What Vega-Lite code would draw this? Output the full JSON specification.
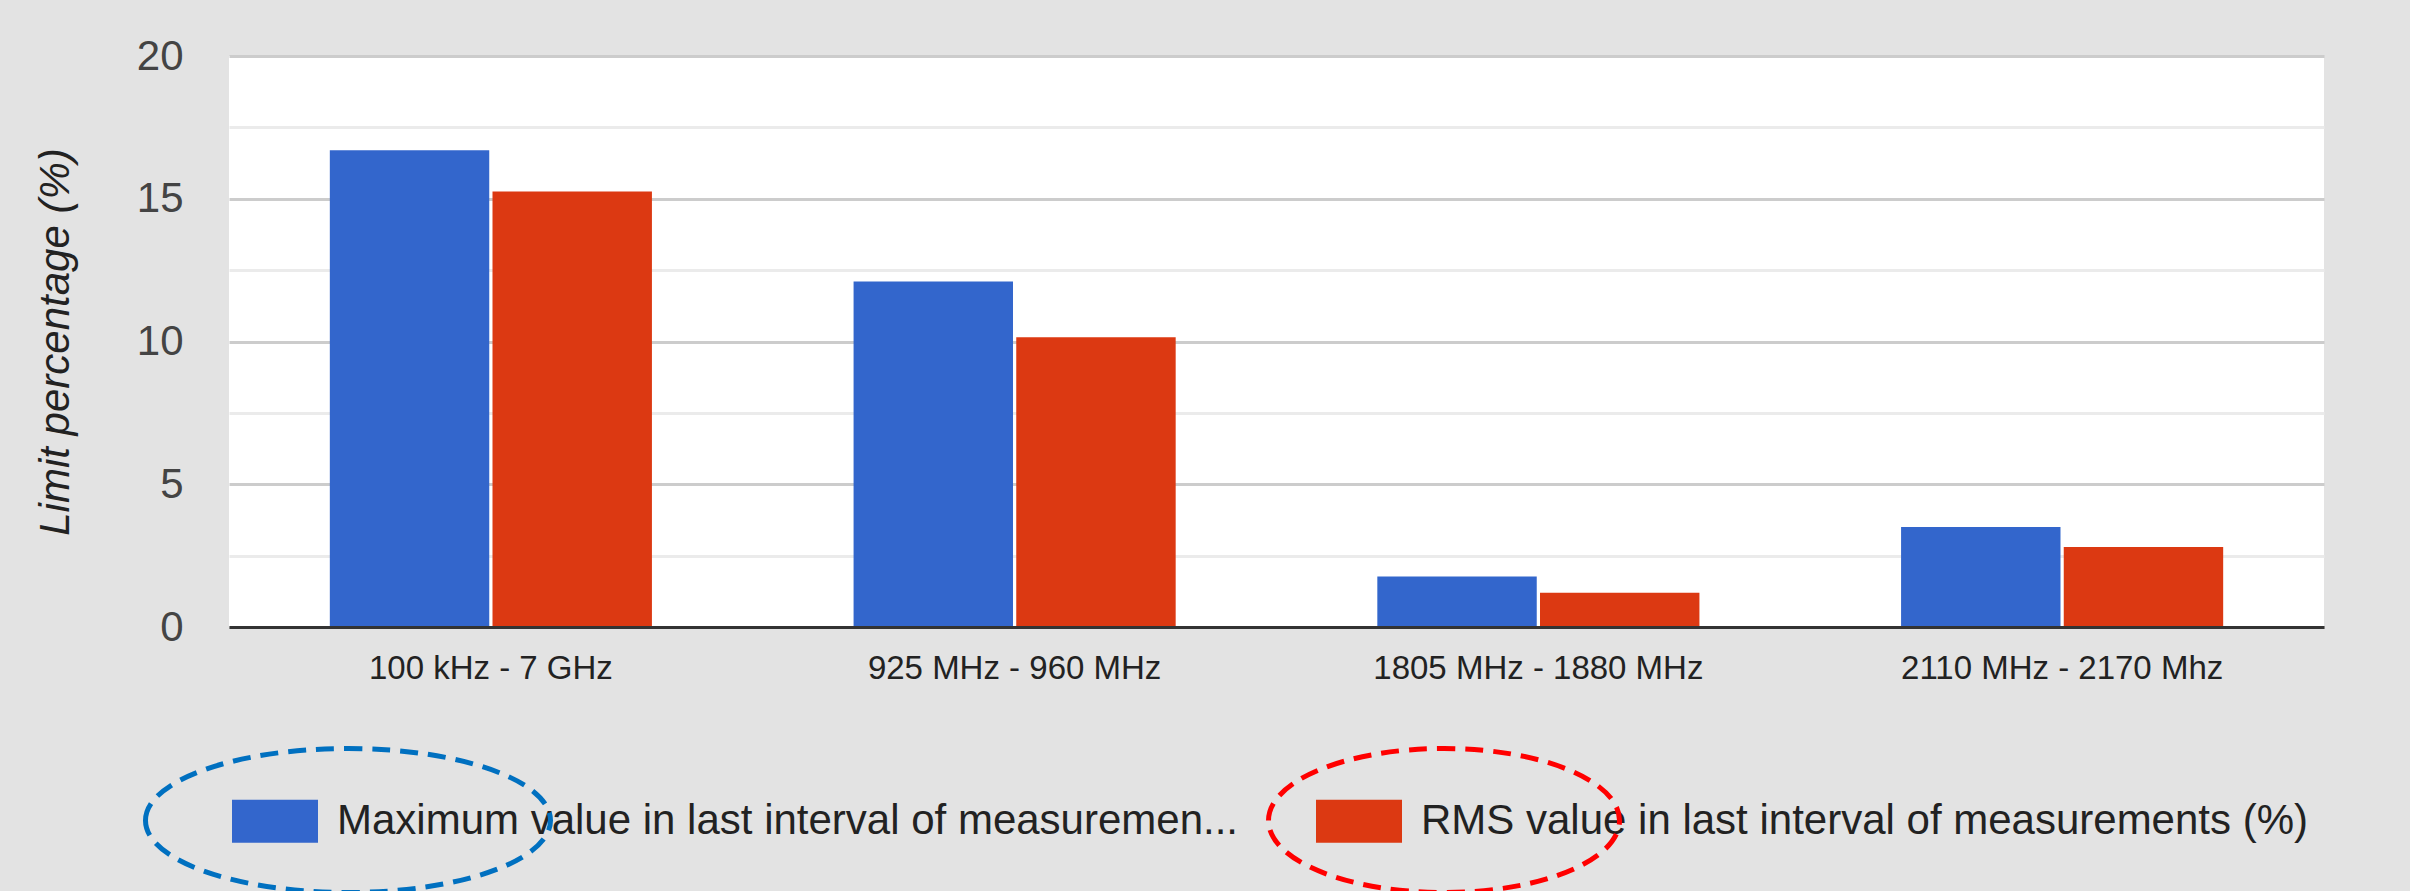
{
  "$schema": "https://vega.github.io/schema/vega-lite/v6.json",
  "width": 2095,
  "height": 571,
  "autosize": {"type": "none"},
  "padding": {"left": 229, "top": 56, "right": 86, "bottom": 264},
  "background": "#e3e3e3",
  "config": {
    "font": "Liberation Sans",
    "view": {"fill": "#ffffff", "stroke": null}
  },
  "data": {
    "values": [
      {"band": "100 kHz - 7 GHz", "series": "Maximum value in last interval of measurements (%)", "value": 16.7},
      {"band": "100 kHz - 7 GHz", "series": "RMS value in last interval of measurements (%)", "value": 15.25},
      {"band": "925 MHz - 960 MHz", "series": "Maximum value in last interval of measurements (%)", "value": 12.1},
      {"band": "925 MHz - 960 MHz", "series": "RMS value in last interval of measurements (%)", "value": 10.15},
      {"band": "1805 MHz - 1880 MHz", "series": "Maximum value in last interval of measurements (%)", "value": 1.77},
      {"band": "1805 MHz - 1880 MHz", "series": "RMS value in last interval of measurements (%)", "value": 1.2},
      {"band": "2110 MHz - 2170 Mhz", "series": "Maximum value in last interval of measurements (%)", "value": 3.5},
      {"band": "2110 MHz - 2170 Mhz", "series": "RMS value in last interval of measurements (%)", "value": 2.8}
    ]
  },
  "encoding": {
    "x": {
      "field": "band",
      "type": "nominal",
      "sort": null,
      "scale": {"paddingInner": 0.385, "paddingOuter": 0.1925},
      "axis": {
        "title": null,
        "labelAngle": 0,
        "labelFontSize": 33,
        "labelColor": "#222222",
        "labelPadding": 25,
        "labelLimit": 0,
        "ticks": false,
        "domainColor": "#333333",
        "domainWidth": 3,
        "zindex": 1
      }
    },
    "xOffset": {"field": "series", "type": "nominal", "scale": {"paddingInner": 0.02}},
    "y": {
      "field": "value",
      "type": "quantitative",
      "scale": {"domain": [0, 20], "nice": false},
      "axis": {
        "title": "Limit percentage (%)",
        "values": [0, 2.5, 5, 7.5, 10, 12.5, 15, 17.5, 20],
        "labelExpr": "datum.value % 5 === 0 ? datum.label : ''",
        "gridColor": {"condition": {"test": "datum.value % 5 === 0", "value": "#cccccc"}, "value": "#ebebeb"},
        "gridWidth": 3,
        "ticks": false,
        "domain": false,
        "labelFontSize": 42,
        "labelColor": "#444444",
        "labelPadding": 46,
        "titleFontSize": 42,
        "titleFontStyle": "italic",
        "titleFontWeight": "normal",
        "titleColor": "#222222",
        "titlePadding": 59
      }
    }
  },
  "layer": [
    {
      "mark": {"type": "bar"},
      "encoding": {
        "color": {
          "field": "series",
          "type": "nominal",
          "scale": {"range": ["#3366cc", "#dc3912"]},
          "legend": {
            "orient": "none",
            "legendX": 3,
            "legendY": 722,
            "direction": "horizontal",
            "title": null,
            "symbolType": "M-1,-0.5H1V0.5H-1Z",
            "symbolSize": 7396,
            "symbolStrokeWidth": 0,
            "labelFontSize": 42,
            "labelColor": "#222222",
            "labelOffset": 19,
            "labelLimit": 0,
            "columnPadding": 77,
            "padding": 0,
            "labelExpr": "indexof(datum.label, 'Maximum') === 0 ? substring(datum.label, 0, 44) + '...' : datum.label"
          }
        }
      }
    },
    {
      "mark": {"type": "point", "opacity": 0, "filled": false},
      "encoding": {
        "stroke": {
          "field": "series",
          "type": "nominal",
          "scale": {
            "domain": ["Maximum value in last interval of measurements (%)", "RMS value in last interval of measurements (%)"],
            "range": ["#0070c0", "#ff0000"]
          },
          "legend": {
            "orient": "none",
            "legendX": -86,
            "legendY": 559,
            "direction": "horizontal",
            "title": null,
            "symbolSize": 164025,
            "symbolStrokeWidth": 5,
            "symbolDash": [18, 10],
            "symbolFillColor": "transparent",
            "labelExpr": "''",
            "labelOffset": 0,
            "columnPadding": 678,
            "padding": 0,
            "encode": {"symbols": {"update": {"opacity": {"value": 1}, "strokeWidth": {"value": 5}, "strokeDash": {"value": [18, 10]}}}}
          }
        },
        "shape": {
          "field": "series",
          "type": "nominal",
          "scale": {
            "domain": ["Maximum value in last interval of measurements (%)", "RMS value in last interval of measurements (%)"],
            "range": [
              "M-1,0C-1,-0.1964,-0.5523,-0.3556,0,-0.3556C0.5523,-0.3556,1,-0.1964,1,0C1,0.1964,0.5523,0.3556,0,0.3556C-0.5523,0.3556,-1,0.1964,-1,0Z",
              "M-0.8667,0C-0.8667,-0.1964,-0.4787,-0.3556,0,-0.3556C0.4787,-0.3556,0.8667,-0.1964,0.8667,0C0.8667,0.1964,0.4787,0.3556,0,0.3556C-0.4787,0.3556,-0.8667,0.1964,-0.8667,0Z"
            ]
          },
          "legend": {
            "orient": "none",
            "legendX": -86,
            "legendY": 559,
            "direction": "horizontal",
            "title": null,
            "symbolSize": 164025,
            "symbolStrokeWidth": 5,
            "symbolDash": [18, 10],
            "symbolFillColor": "transparent",
            "labelExpr": "''",
            "labelOffset": 0,
            "columnPadding": 678,
            "padding": 0,
            "encode": {"symbols": {"update": {"opacity": {"value": 1}, "strokeWidth": {"value": 5}, "strokeDash": {"value": [18, 10]}}}}
          }
        }
      }
    }
  ]
}
